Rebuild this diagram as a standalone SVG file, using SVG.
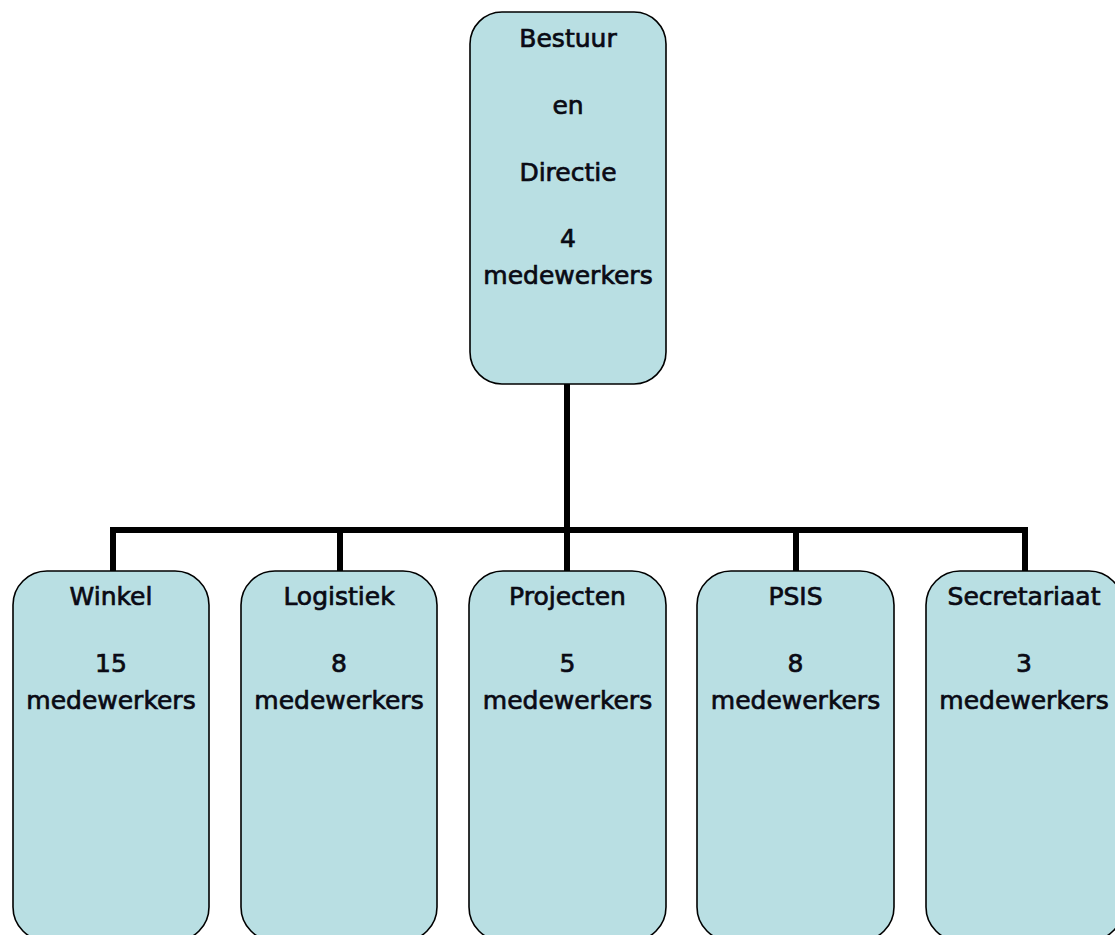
<svg xmlns="http://www.w3.org/2000/svg" width="1115" height="935" viewBox="0 0 1115 935">
  <style>
    .box { fill: #B9DFE3; stroke: #000; stroke-width: 1.6; }
    .lbl { font-family: "DejaVu Sans", "Liberation Sans", sans-serif; font-size: 25px; fill: #0a0a14; stroke: #0a0a14; stroke-width: 0.7; text-anchor: middle; }
    .conn { fill: none; stroke: #000; stroke-width: 6; stroke-linejoin: miter; stroke-linecap: butt; }
  </style>
  <rect width="1115" height="935" fill="#fff"/>

  <!-- connectors -->
  <g id="connectors">
    <path class="conn" d="M567 384 V530"/>
    <path class="conn" d="M113 571 V530 H1025 V571"/>
    <path class="conn" d="M340 530 V571"/>
    <path class="conn" d="M567 530 V571"/>
    <path class="conn" d="M796 530 V571"/>
  </g>

  <g id="bestuur">
    <rect class="box" x="470" y="12" width="196" height="372" rx="32" ry="32"/>
    <text class="lbl" x="568" y="47">Bestuur</text>
    <text class="lbl" x="568" y="114">en</text>
    <text class="lbl" x="568" y="181">Directie</text>
    <text class="lbl" x="568" y="247">4</text>
    <text class="lbl" x="568" y="284">medewerkers</text>
  </g>

  <g id="winkel">
    <rect class="box" x="13" y="571" width="196" height="370" rx="34" ry="34"/>
    <text class="lbl" x="111" y="605">Winkel</text>
    <text class="lbl" x="111" y="672">15</text>
    <text class="lbl" x="111" y="709">medewerkers</text>
  </g>

  <g id="logistiek">
    <rect class="box" x="241" y="571" width="196" height="370" rx="34" ry="34"/>
    <text class="lbl" x="339" y="605">Logistiek</text>
    <text class="lbl" x="339" y="672">8</text>
    <text class="lbl" x="339" y="709">medewerkers</text>
  </g>

  <g id="projecten">
    <rect class="box" x="469" y="571" width="197" height="370" rx="34" ry="34"/>
    <text class="lbl" x="567.5" y="605">Projecten</text>
    <text class="lbl" x="567.5" y="672">5</text>
    <text class="lbl" x="567.5" y="709">medewerkers</text>
  </g>

  <g id="psis">
    <rect class="box" x="697" y="571" width="197" height="370" rx="34" ry="34"/>
    <text class="lbl" x="795.5" y="605">PSIS</text>
    <text class="lbl" x="795.5" y="672">8</text>
    <text class="lbl" x="795.5" y="709">medewerkers</text>
  </g>

  <g id="secretariaat">
    <rect class="box" x="926" y="571" width="197" height="370" rx="34" ry="34"/>
    <text class="lbl" x="1024" y="605">Secretariaat</text>
    <text class="lbl" x="1024" y="672">3</text>
    <text class="lbl" x="1024" y="709">medewerkers</text>
  </g>
</svg>
